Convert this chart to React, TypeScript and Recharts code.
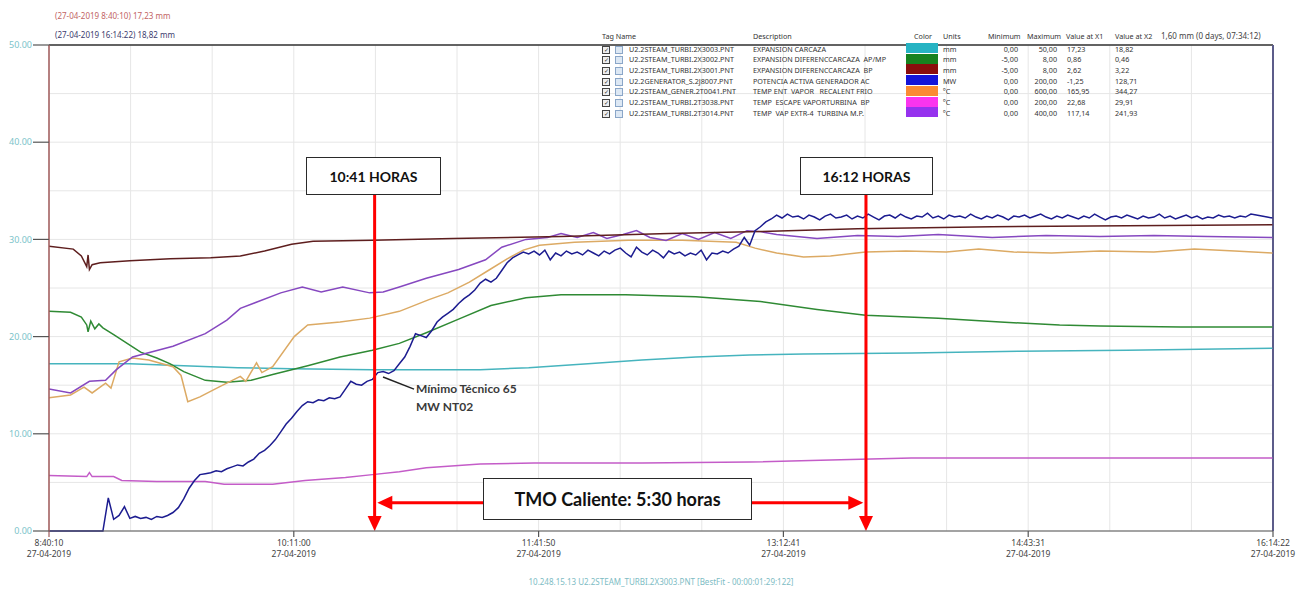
import React from 'react';
import { LineChart, Line, XAxis, YAxis, CartesianGrid, ReferenceLine } from 'recharts';

// time axis: seconds after 27-04-2019 8:40:10, window of 07:34:12
const TOTAL_SEC = 27252;
const xTickLabels = ['8:40:10', '10:11:00', '11:41:50', '13:12:41', '14:43:31', '16:14:22'];
const xTickDate = '27-04-2019';
const yTickLabels = ['0.00', '10.00', '20.00', '30.00', '40.00', '50.00'];

// series, time in minutes after start, value on the 0-50 chart scale
const cyanT = [0, 30, 50, 70, 90, 120, 160, 178, 200, 220, 240, 260, 280, 320, 360, 400, 454];
const cyanV = [17.2, 17.2, 17.0, 16.8, 16.7, 16.6, 16.6, 16.8, 17.2, 17.6, 17.9, 18.1, 18.2, 18.3, 18.5, 18.6, 18.8];

const greenT = [0, 8, 12, 14, 14.5, 15.5, 17, 18.5, 20, 24, 29, 34, 40, 45, 50, 58, 66, 75, 83, 96, 108, 120, 130, 140, 152, 164, 177, 190, 214, 240, 264, 285, 303, 330, 353, 375, 390, 420, 454];
const greenV = [22.6, 22.5, 22.0, 21.2, 20.5, 21.6, 20.8, 21.3, 20.9, 20.2, 19.3, 18.4, 17.8, 17.2, 16.4, 15.5, 15.3, 15.5, 16.1, 17.0, 17.9, 18.6, 19.3, 20.4, 21.8, 23.2, 24.0, 24.3, 24.3, 24.1, 23.6, 22.8, 22.2, 21.9, 21.5, 21.2, 21.1, 21.0, 21.0];

const brownT = [0, 9, 12, 14, 14.5, 15, 16, 19, 30, 45, 60, 71, 80, 90, 98, 120, 150, 190, 230, 264, 300, 350, 400, 454];
const brownV = [29.3, 29.0, 28.3, 27.2, 28.4, 26.9, 27.4, 27.6, 27.8, 28.0, 28.1, 28.3, 28.8, 29.5, 29.8, 29.9, 30.1, 30.3, 30.6, 30.8, 31.1, 31.3, 31.4, 31.5];

// potencia activa, one sample every 2 minutes from 0 to 454
const blueV = [
  0, 0, 0, 0, 0, 0, 0, 0, 0, 0,
  0, 3.4, 1.2, 1.6, 2.5, 1.3, 1.5, 1.3, 1.4, 1.2,
  1.5, 1.4, 1.6, 1.9, 2.4, 3.3, 4.4, 5.2, 5.8, 5.9,
  6.0, 6.2, 6.1, 6.4, 6.6, 6.8, 6.7, 7.1, 7.4, 8.0,
  8.3, 8.8, 9.4, 10.2, 11.0, 11.6, 12.3, 12.9, 13.3, 13.2,
  13.5, 13.4, 13.7, 13.6, 13.8, 14.6, 15.4, 15.1, 15.0, 15.4,
  15.6, 16.3, 16.4, 16.2, 16.5, 17.2, 17.9, 19.0, 20.3, 20.1,
  19.9, 20.6, 21.5, 22.0, 22.4, 22.8, 23.4, 23.9, 24.3, 24.8,
  25.5, 25.9, 25.6, 26.0, 26.8, 27.6, 28.1, 28.4, 28.7, 28.5,
  28.8, 28.4, 28.9, 27.9, 28.6, 28.3, 28.8, 28.5, 28.7, 28.4,
  28.9, 28.6, 28.3, 28.8, 28.5, 28.9, 29.1, 28.6, 28.2, 29.2,
  28.7, 28.4, 28.9, 28.6, 28.1, 28.8, 28.5, 28.7, 28.3, 28.6,
  28.4, 28.9, 27.9, 28.6, 28.5, 28.8, 28.6, 29.0, 29.3, 30.2,
  29.4, 30.9, 31.3, 31.8, 32.1, 32.5, 32.2, 32.6, 32.3, 32.4,
  32.1, 32.5, 32.3, 32.0, 32.4, 32.6, 32.2, 32.3, 32.5, 32.1,
  32.4, 32.2, 32.6, 32.3, 32.0, 32.4, 32.5, 32.2, 32.6, 32.3,
  32.1, 32.4, 32.3, 32.7, 32.2, 32.4, 32.1, 32.5, 32.3, 32.4,
  32.2, 32.6, 32.3, 32.1, 32.4, 32.2, 32.5, 32.3, 32.0, 32.4,
  32.3, 32.5, 32.2, 32.4, 32.6, 32.3, 32.1, 32.4, 32.2, 32.5,
  32.3, 32.1, 32.4, 32.2, 32.6, 32.3, 32.0, 32.3, 32.4, 32.2,
  32.5, 32.3, 32.1, 32.4, 32.2, 32.3, 32.6, 32.2, 32.4, 32.1,
  32.3, 32.5, 32.2, 32.4, 32.1, 32.3, 32.2, 32.5, 32.3, 32.4,
  32.2, 32.4, 32.3, 32.6, 32.5, 32.4, 32.3, 32.2,
];

const orangeT = [0, 8, 13, 16, 21, 23, 26, 31, 37, 46, 49, 51.5, 56, 63, 71, 73, 77, 79, 83, 91, 96, 108, 119, 130, 141, 148, 156, 163, 170, 176, 182, 195, 215, 235, 255, 262, 270, 280, 290, 303, 318, 333, 345, 358, 372, 390, 410, 425, 440, 454];
const orangeV = [13.7, 14.0, 14.8, 14.2, 15.2, 14.7, 17.4, 17.8, 17.6, 16.9, 16.0, 13.3, 13.8, 14.8, 15.9, 15.4, 17.3, 16.3, 16.9, 20.0, 21.2, 21.5, 21.9, 22.6, 23.8, 24.5, 25.6, 26.8, 28.0, 28.9, 29.4, 29.7, 29.9, 29.9, 29.7, 29.1, 28.6, 28.2, 28.3, 28.7, 28.8, 28.7, 29.0, 28.7, 28.6, 28.8, 28.7, 29.0, 28.8, 28.6];

const magentaT = [0, 14, 15, 16, 24, 27, 40, 58, 65, 83, 95, 110, 120, 130, 140, 160, 180, 220, 260, 290, 320, 360, 400, 454];
const magentaV = [5.7, 5.6, 6.0, 5.6, 5.6, 5.2, 5.1, 5.1, 4.8, 4.8, 5.2, 5.5, 5.8, 6.1, 6.5, 6.9, 7.0, 7.0, 7.1, 7.3, 7.5, 7.5, 7.5, 7.5];

const purpleT = [0, 8, 15, 21, 25, 31, 46, 58, 66, 71, 86, 94, 101, 109, 119, 124, 130, 140, 152, 162, 168, 177, 185, 190, 196, 202, 207, 213, 218, 223, 229, 235, 241, 247, 253, 259, 264, 270, 285, 300, 315, 330, 350, 370, 390, 410, 430, 454];
const purpleV = [14.6, 14.2, 15.4, 15.5, 16.6, 17.9, 19.0, 20.3, 21.7, 22.9, 24.5, 25.1, 24.6, 25.1, 24.5, 24.6, 25.1, 26.0, 26.9, 27.9, 29.2, 30.0, 30.2, 30.6, 30.2, 30.7, 30.1, 30.5, 30.9, 30.2, 29.9, 30.6, 30.0, 30.7, 30.1, 30.9, 30.8, 30.5, 30.1, 30.4, 30.3, 30.5, 30.2, 30.4, 30.3, 30.4, 30.3, 30.2];

// legend table
const tagNames = [
  'U2.2STEAM_TURBI.2X3003.PNT',
  'U2.2STEAM_TURBI.2X3002.PNT',
  'U2.2STEAM_TURBI.2X3001.PNT',
  'U2.2GENERATOR_S.2J8007.PNT',
  'U2.2STEAM_GENER.2T0041.PNT',
  'U2.2STEAM_TURBI.2T3038.PNT',
  'U2.2STEAM_TURBI.2T3014.PNT',
];
const descriptions = [
  'EXPANSION CARCAZA',
  'EXPANSION DIFERENCCARCAZA  AP/MP',
  'EXPANSION DIFERENCCARCAZA  BP',
  'POTENCIA ACTIVA GENERADOR AC',
  'TEMP ENT  VAPOR   RECALENT FRIO',
  'TEMP  ESCAPE VAPORTURBINA  BP',
  'TEMP  VAP EXTR-4  TURBINA M.P.',
];
const swatchColors = ['#26b3c3', '#17821f', '#8a0d0d', '#1414d8', '#fb8a32', '#fb34ee', '#9632ee'];
const units = ['mm', 'mm', 'mm', 'MW', 'ºC', 'ºC', 'ºC'];
const minimums = ['0,00', '-5,00', '-5,00', '0,00', '0,00', '0,00', '0,00'];
const maximums = ['50,00', '8,00', '8,00', '200,00', '600,00', '200,00', '400,00'];
const valuesX1 = ['17,23', '0,86', '2,62', '-1,25', '165,95', '22,68', '117,14'];
const valuesX2 = ['18,82', '0,46', '3,22', '128,71', '344,27', '29,91', '241,93'];

const toPoints = (t: number[], v: number[]) => t.map((m, i) => ({ t: m * 60, v: v[i] }));

const series = [
  { key: 'cyan', data: toPoints(cyanT, cyanV), color: '#46b4be' },
  { key: 'green', data: toPoints(greenT, greenV), color: '#2f8a34' },
  { key: 'magenta', data: toPoints(magentaT, magentaV), color: '#c45cc8' },
  { key: 'orange', data: toPoints(orangeT, orangeV), color: '#dcaa64' },
  { key: 'purple', data: toPoints(purpleT, purpleV), color: '#8648c0' },
  { key: 'brown', data: toPoints(brownT, brownV), color: '#5e1e1e' },
  { key: 'blue', data: blueV.map((v, i) => ({ t: i * 120, v })), color: '#1c1c90' },
];

const xTicks = Array.from({ length: 16 }, (_, i) => (i * TOTAL_SEC) / 15);
const yTicks = [0, 5, 10, 15, 20, 25, 30, 35, 40, 45, 50];

const RED_A = 7250; // 10:41
const RED_B = 18190;

const XTick = (props: any) => {
  const { x, y, index } = props;
  if (index % 3 !== 0) return <g />;
  return (
    <g>
      <line x1={x} x2={x} y1={y} y2={y + 6} stroke={index === 0 ? '#a05a5a' : '#555'} strokeWidth={1.2} />
      <text x={x} y={y + 15} textAnchor="middle" fontSize={8.5} fill="#444">{xTickLabels[index / 3]}</text>
      <text x={x} y={y + 25.5} textAnchor="middle" fontSize={8.5} fill="#444">{xTickDate}</text>
    </g>
  );
};

const YTick = (props: any) => {
  const { x, y, index } = props;
  if (index % 2 !== 0) return <g />;
  return (
    <g>
      <line x1={x - 16} x2={x} y1={y} y2={y} stroke="#555" strokeWidth={1.2} />
      <text x={x - 17} y={y} dy="0.35em" textAnchor="end" fontSize={9} fill="#7cc3ca">{yTickLabels[index / 2]}</text>
    </g>
  );
};

const head = (tx: number, ty: number, dx: number, dy: number) => {
  const L = 15;
  const W = 7;
  const bx = tx - dx * L;
  const by = ty - dy * L;
  return `${tx},${ty} ${bx - dy * W},${by + dx * W} ${bx + dy * W},${by - dx * W}`;
};

const RedArrow = (p: any) => {
  const { x1, y1, x2, y2, both } = p;
  const len = Math.hypot(x2 - x1, y2 - y1) || 1;
  const dx = (x2 - x1) / len;
  const dy = (y2 - y1) / len;
  return (
    <g>
      <line x1={both ? x1 + dx * 10 : x1} y1={both ? y1 + dy * 10 : y1} x2={x2 - dx * 10} y2={y2 - dy * 10} stroke="#ff0000" strokeWidth={3} />
      <polygon points={head(x2, y2, dx, dy)} fill="#ff0000" />
      {both && <polygon points={head(x1, y1, -dx, -dy)} fill="#ff0000" />}
    </g>
  );
};

const boxStyle: React.CSSProperties = {
  position: 'absolute',
  background: '#fff',
  border: '1.5px solid #2a2a2a',
  boxSizing: 'border-box',
  display: 'flex',
  alignItems: 'center',
  justifyContent: 'center',
  fontFamily: 'Lato, sans-serif',
  fontWeight: 700,
  color: '#111',
};

const cell = (left: number, top: number, text: string, extra?: React.CSSProperties) => (
  <div style={{ position: 'absolute', left, top, lineHeight: '10px', whiteSpace: 'pre', ...extra }}>{text}</div>
);

const LegendTable = () => {
  const rowTop = (i: number) => 43.5 + i * 10.7;
  return (
    <div style={{ position: 'absolute', left: 0, top: 0, fontSize: 7.2, color: '#333', fontFamily: '"Noto Sans", sans-serif' }}>
      {cell(602, 31, 'Tag Name')}
      {cell(753, 31, 'Description')}
      {cell(914, 31, 'Color')}
      {cell(943, 31, 'Units')}
      {cell(988, 31, 'Minimum')}
      {cell(1027, 31, 'Maximum')}
      {cell(1066, 31, 'Value at X1')}
      {cell(1115, 31, 'Value at X2')}
      {tagNames.map((name, i) => (
        <React.Fragment key={name}>
          <div style={{ position: 'absolute', left: 602, top: rowTop(i) + 2, width: 6, height: 6, border: '1px solid #444', background: '#eee', fontSize: 6, lineHeight: '6px', textAlign: 'center' }}>✓</div>
          <div style={{ position: 'absolute', left: 615, top: rowTop(i) + 2, width: 6, height: 6, border: '1px solid #8aa6c8', background: '#dde8f4' }} />
          {cell(629, rowTop(i), name)}
          {cell(753, rowTop(i), descriptions[i])}
          <div style={{ position: 'absolute', left: 906, top: rowTop(i) - 0.5, width: 32, height: 10, background: swatchColors[i] }} />
          {cell(943, rowTop(i), units[i])}
          {cell(978, rowTop(i), minimums[i], { width: 40, textAlign: 'right' })}
          {cell(1017, rowTop(i), maximums[i], { width: 40, textAlign: 'right' })}
          {cell(1067, rowTop(i), valuesX1[i])}
          {cell(1115, rowTop(i), valuesX2[i])}
        </React.Fragment>
      ))}
      {cell(1161, 31, '1,60 mm (0 days, 07:34:12)', { fontSize: 8, color: '#444' })}
    </div>
  );
};

export default function App() {
  return (
    <div style={{ position: 'absolute', left: 0, top: 0, width: 1306, height: 591, background: '#fff', fontFamily: '"Noto Sans", sans-serif', overflow: 'hidden' }}>
      <div style={{ position: 'absolute', left: 0, top: 0 }}>
        <LineChart width={1306} height={591} margin={{ top: 45, right: 33, bottom: 20, left: 0 }}>
          <CartesianGrid stroke="#e6e6e6" />
          <XAxis
            type="number"
            dataKey="t"
            domain={[0, TOTAL_SEC]}
            ticks={xTicks}
            interval={0}
            tick={<XTick />}
            tickLine={false}
            tickSize={0}
            tickMargin={0}
            height={40}
            axisLine={{ stroke: '#555', strokeWidth: 1.2 }}
            allowDataOverflow
          />
          <YAxis
            type="number"
            domain={[0, 50]}
            ticks={yTicks}
            interval={0}
            tick={<YTick />}
            tickLine={false}
            tickSize={0}
            tickMargin={0}
            width={49}
            axisLine={{ stroke: '#a05a5a', strokeWidth: 1.5 }}
          />
          <ReferenceLine y={50} stroke="#333" strokeWidth={1.5} />
          <ReferenceLine x={TOTAL_SEC} stroke="#5c5c8a" strokeWidth={2} />
          {series.map((s) => (
            <Line
              key={s.key}
              data={s.data}
              dataKey="v"
              type="linear"
              stroke={s.color}
              strokeWidth={1.5}
              dot={false}
              isAnimationActive={false}
            />
          ))}
          <ReferenceLine
            segment={[{ x: 7437, y: 15.84 }, { x: 8127, y: 14.6 }]}
            stroke="#222"
            strokeWidth={1.5}
            ifOverflow="visible"
          />
          <ReferenceLine
            segment={[{ x: RED_A, y: 34.6 }, { x: RED_A, y: 0 }]}
            ifOverflow="visible"
            shape={(p: any) => <RedArrow {...p} />}
          />
          <ReferenceLine
            segment={[{ x: RED_B, y: 34.6 }, { x: RED_B, y: 0 }]}
            ifOverflow="visible"
            shape={(p: any) => <RedArrow {...p} />}
          />
          <ReferenceLine
            segment={[{ x: RED_A + 60, y: 2.9 }, { x: RED_B - 60, y: 2.9 }]}
            ifOverflow="visible"
            shape={(p: any) => <RedArrow {...p} both />}
          />
        </LineChart>
      </div>

      <div style={{ position: 'absolute', left: 55, top: 10, fontSize: 8, color: '#c26464', whiteSpace: 'nowrap' }}>(27-04-2019 8:40:10) 17,23 mm</div>
      <div style={{ position: 'absolute', left: 55, top: 29, fontSize: 8, color: '#3c3c6e', whiteSpace: 'nowrap' }}>(27-04-2019 16:14:22) 18,82 mm</div>

      <LegendTable />

      <div style={{ ...boxStyle, left: 306, top: 157, width: 135, height: 38, fontSize: 14 }}>10:41 HORAS</div>
      <div style={{ ...boxStyle, left: 800, top: 157, width: 133, height: 38, fontSize: 14 }}>16:12 HORAS</div>
      <div style={{ ...boxStyle, left: 483, top: 478, width: 269, height: 42, fontSize: 18 }}>TMO Caliente: 5:30 horas</div>

      <div style={{ position: 'absolute', left: 416, top: 380, fontFamily: 'Lato, sans-serif', fontWeight: 700, fontSize: 12, lineHeight: '18px', color: '#3a3a3a', whiteSpace: 'nowrap' }}>
        Mínimo Técnico 65<br />MW NT02
      </div>

      <div style={{ position: 'absolute', left: 0, width: 1322, top: 576, textAlign: 'center', fontSize: 8, color: '#7dbcc4', whiteSpace: 'nowrap' }}>
        10.248.15.13 U2.2STEAM_TURBI.2X3003.PNT [BestFit - 00:00:01:29:122]
      </div>
    </div>
  );
}
